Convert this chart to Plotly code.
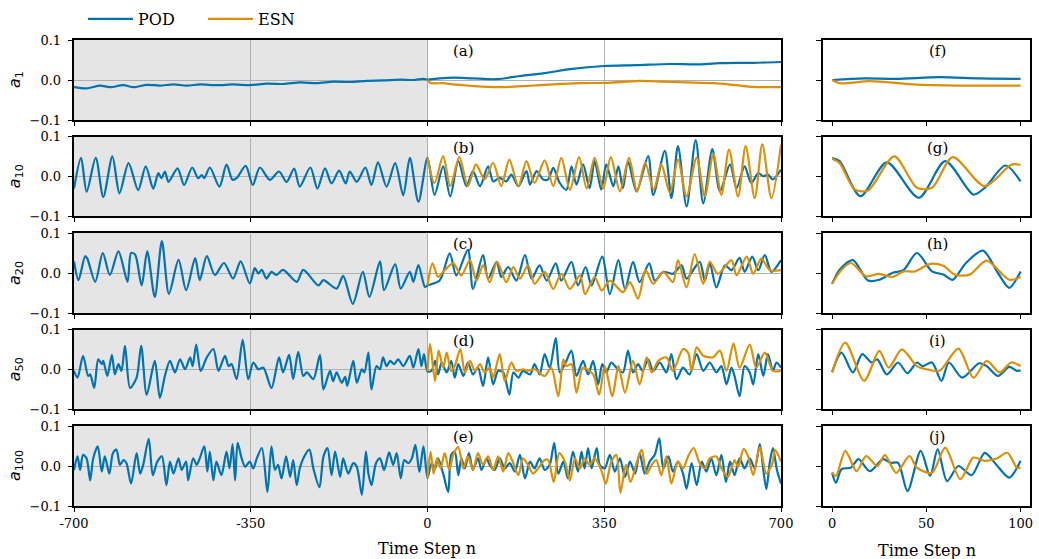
import plotly.graph_objects as go

# ---------------- data (time step, value) ----------------
modes = ["1", "10", "20", "50", "100"]
panel_left = ["(a)", "(b)", "(c)", "(d)", "(e)"]
panel_right = ["(f)", "(g)", "(h)", "(i)", "(j)"]
train_start, train_end = -700, 0
left_ticks = [-700, -350, 0, 350, 700]
left_ticktext = ["-700", "-350", "0", "350", "700"]
right_ticks = [0, 50, 100]
y_ticks = [-0.1, 0.0, 0.1]
y_ticktext = ["\u22120.1", "0.0", "0.1"]

# ---- a_1 ----
a1_pod_train = [(-700,-0.018),(-675,-0.021),(-648,-0.014),(-629,-0.018),(-602,-0.013),(-582,-0.018),(-556,-0.012),
    (-530,-0.014),(-503,-0.011),(-477,-0.014),(-450,-0.011),(-417,-0.013),(-384,-0.011),(-351,-0.013),(-318,-0.009),
    (-285,-0.010),(-252,-0.006),(-219,-0.008),(-186,-0.004),(-153,-0.005),(-120,-0.002),(-87,-0.001),(-54,0.001),
    (-28,0.0),(-8,0.003),(0,0.001)]
a1_pod_test = [(0,0.001),(24,0.004),(51,0.006),(90,0.004),(137,0.002),(183,0.010),(236,0.018),(282,0.027),(350,0.035),
    (414,0.037),(480,0.040),(533,0.039),(579,0.042),(645,0.043),(700,0.045)]
a1_esn = [(0,0.001),(5,-0.007),(31,-0.008),(51,-0.011),(90,-0.015),(137,-0.018),(196,-0.015),(249,-0.011),(302,-0.008),
    (350,-0.007),(394,-0.004),(420,-0.002),(460,-0.004),(513,-0.006),(566,-0.008),(612,-0.013),(645,-0.017),(700,-0.018)]
a1_pod_zoom = [(0,0.0),(17,0.004),(34,0.003),(57,0.007),(78,0.004),(100,0.003)]
a1_esn_zoom = [(0,0.0),(4,-0.008),(20,-0.003),(43,-0.011),(67,-0.014),(87,-0.014),(100,-0.014)]

# ---- a_10 ----
a10_pod_train = [(-700,-0.031),(-686,0.046),(-675,-0.039),(-657,0.046),(-642,-0.052),(-624,0.050),(-610,-0.043),
    (-592,0.033),(-573,-0.035),(-558,0.025),(-543,-0.031),(-533,0.008),(-527,-0.005),(-520,0.012),(-513,-0.014),
    (-495,0.020),(-482,-0.022),(-466,0.022),(-454,-0.005),(-447,0.003),(-442,-0.005),(-431,0.022),(-412,-0.026),
    (-398,0.029),(-386,-0.009),(-378,-0.005),(-360,0.026),(-346,-0.022),(-332,0.022),(-312,-0.009),(-294,0.012),
    (-279,-0.014),(-264,0.019),(-253,-0.026),(-232,0.022),(-218,-0.031),(-203,0.020),(-190,-0.018),(-175,0.014),
    (-162,-0.018),(-154,0.012),(-140,-0.014),(-123,0.022),(-111,-0.022),(-98,0.035),(-81,-0.026),(-64,0.033),
    (-48,-0.048),(-35,0.046),(-18,-0.064),(0,0.046)]
a10_pod_test = [(0,0.046),(14,-0.047),(31,0.025),(45,-0.051),(61,0.038),(77,-0.025),(90,0.013),(104,-0.025),(120,0.025),
    (130,-0.013),(143,-0.004),(156,-0.013),(166,0.004),(180,-0.025),(196,0.013),(203,-0.021),(216,0.013),(229,-0.008),
    (239,-0.008),(249,0.021),(262,-0.017),(275,-0.034),(285,0.025),(295,-0.021),(308,0.030),(321,-0.030),(331,0.038),
    (344,-0.034),(354,0.030),(368,-0.025),(378,0.025),(387,-0.030),(397,0.038),(414,-0.038),(437,0.051),(447,-0.047),
    (470,0.064),(483,-0.055),(496,0.076),(513,-0.076),(531,0.091),(546,-0.068),(564,0.068),(579,-0.038),(599,0.030),
    (612,-0.030),(628,0.025),(641,-0.017),(655,0.008),(665,0.0),(674,0.004),(684,-0.008),(700,0.017)]
a10_esn = [(0,0.046),(14,-0.017),(31,0.051),(45,-0.025),(63,0.048),(80,-0.025),(96,0.030),(113,-0.008),(130,0.034),
    (146,-0.025),(162,0.042),(180,-0.025),(196,0.038),(212,-0.017),(232,0.040),(249,-0.025),(265,0.046),(282,-0.034),
    (300,0.048),(315,-0.030),(331,0.046),(348,-0.030),(363,0.048),(381,-0.038),(399,0.046),(415,-0.038),(431,0.034),
    (448,-0.034),(463,0.030),(480,-0.042),(496,0.042),(513,-0.051),(533,0.047),(549,-0.051),(566,0.055),(582,-0.047),
    (597,0.067),(615,-0.051),(630,0.076),(648,-0.055),(663,0.080),(681,-0.055),(700,0.079)]
a10_pod_zoom = [(0,0.046),(4,0.038),(15,-0.050),(29,0.035),(46,-0.054),(60,0.038),(75,-0.046),(81,-0.029),(92,0.027),(100,-0.013)]
a10_esn_zoom = [(0,0.044),(4,0.033),(12,-0.033),(19,-0.036),(33,0.050),(45,-0.029),(53,-0.029),(64,0.048),(81,-0.025),
    (95,0.029),(100,0.029)]

# ---- a_20 ----
a20_pod_train = [(-700,0.029),(-691,-0.018),(-678,0.042),(-674,0.037),(-658,-0.022),(-643,0.050),(-629,-0.005),
    (-612,0.054),(-594,-0.022),(-587,0.050),(-579,0.046),(-566,-0.031),(-555,0.054),(-540,-0.060),(-526,0.080),
    (-512,-0.052),(-493,0.033),(-478,-0.043),(-460,0.037),(-451,-0.018),(-437,0.042),(-421,-0.005),(-403,0.025),
    (-385,-0.014),(-370,0.029),(-352,-0.026),(-342,0.012),(-335,-0.001),(-328,0.008),(-319,-0.014),(-309,0.003),
    (-299,-0.005),(-286,0.008),(-259,-0.022),(-246,0.008),(-216,-0.031),(-206,-0.018),(-180,-0.039),(-167,-0.007),
    (-148,-0.077),(-128,0.003),(-115,-0.060),(-94,0.029),(-86,-0.043),(-64,0.022),(-53,-0.039),(-35,0.003),
    (-28,-0.022),(-18,0.020),(-5,-0.035),(0,-0.031)]
a20_pod_test = [(0,-0.031),(24,-0.019),(44,0.049),(57,-0.006),(80,0.058),(90,-0.040),(110,0.045),(120,-0.014),(137,0.028),
    (146,-0.010),(160,0.015),(176,-0.019),(193,0.045),(206,-0.014),(222,0.019),(236,-0.019),(254,0.024),(265,-0.019),
    (285,0.028),(298,-0.031),(313,0.015),(325,-0.031),(346,0.041),(361,-0.053),(378,0.032),(391,-0.040),(407,0.028),
    (420,-0.023),(439,0.024),(450,-0.019),(467,0.003),(486,-0.002),(503,0.019),(513,-0.014),(539,0.028),(549,-0.019),
    (559,0.024),(572,-0.036),(589,0.019),(602,0.007),(618,0.038),(628,0.003),(643,0.041),(655,0.007),(668,0.045),
    (681,0.003),(700,0.032)]
a20_esn = [(0,-0.031),(10,0.024),(21,-0.010),(31,0.003),(51,0.024),(67,-0.006),(84,0.032),(97,-0.019),(110,0.019),
    (123,-0.023),(138,0.028),(156,-0.023),(170,0.015),(183,-0.014),(199,0.019),(212,-0.027),(232,0.003),(249,-0.040),
    (265,-0.002),(282,-0.040),(302,-0.006),(312,-0.053),(331,-0.010),(345,-0.044),(361,-0.019),(387,-0.048),
    (401,-0.023),(417,-0.064),(432,0.007),(447,-0.027),(467,0.003),(486,-0.023),(496,0.032),(513,-0.036),(529,0.047),
    (546,-0.027),(559,0.028),(575,-0.002),(602,0.032),(612,-0.006),(632,0.041),(645,-0.002),(661,0.036),(678,0.007),
    (700,0.007)]
a20_pod_zoom = [(0,-0.027),(4,0.008),(11,0.032),(19,-0.019),(25,-0.017),(32,0.0),(38,0.008),(45,0.050),(53,0.004),
    (59,-0.004),(64,-0.017),(71,0.025),(80,0.056),(88,0.0),(94,-0.037),(100,0.004)]
a20_esn_zoom = [(0,-0.027),(5,0.008),(10,0.025),(18,-0.008),(25,-0.002),(32,-0.010),(38,0.004),(44,0.004),(52,0.023),
    (59,0.018),(65,-0.004),(73,-0.004),(82,0.031),(94,-0.017),(100,-0.010)]

# ---- a_50 ----
a50_pod_train = [(-700,-0.004),(-693,-0.021),(-682,0.034),(-672,-0.017),(-668,-0.013),(-660,-0.047),(-652,0.025),
    (-645,0.013),(-642,0.021),(-634,-0.017),(-625,0.036),(-619,-0.013),(-612,0.013),(-606,-0.004),(-599,0.059),
    (-589,-0.047),(-576,-0.021),(-567,0.059),(-556,-0.064),(-540,0.021),(-530,-0.072),(-520,-0.017),(-510,0.021),
    (-500,-0.008),(-490,0.025),(-480,0.0),(-470,0.030),(-465,0.008),(-458,0.062),(-449,-0.004),(-437,0.030),
    (-424,0.051),(-414,-0.004),(-401,0.034),(-394,0.008),(-388,0.013),(-378,-0.025),(-366,0.074),(-355,-0.025),
    (-345,0.017),(-335,0.0),(-325,0.004),(-309,-0.047),(-294,0.030),(-286,-0.008),(-274,0.036),(-266,-0.025),
    (-256,0.044),(-246,-0.017),(-239,-0.008),(-226,-0.025),(-213,0.036),(-206,-0.051),(-193,-0.004),(-187,-0.030),
    (-180,-0.008),(-170,-0.034),(-163,-0.019),(-159,-0.042),(-147,0.021),(-140,-0.034),(-130,0.0),(-125,-0.008),
    (-117,0.042),(-111,-0.051),(-101,0.008),(-94,0.0),(-88,0.030),(-81,0.008),(-74,0.021),(-66,0.013),(-58,0.025),
    (-48,0.008),(-35,0.034),(-28,0.004),(-18,0.051),(-12,0.008),(-7,0.038),(0,-0.005)]
a50_pod_test = [(0,-0.005),(8,-0.004),(15,0.021),(21,-0.013),(28,0.017),(38,-0.008),(47,0.021),(54,-0.021),(61,0.013),
    (71,-0.017),(80,0.017),(90,-0.013),(100,0.004),(110,-0.042),(120,0.030),(130,-0.038),(140,-0.004),(150,-0.008),
    (162,-0.064),(170,-0.008),(180,-0.021),(189,-0.004),(203,-0.013),(212,0.013),(222,-0.013),(232,0.038),(242,0.004),
    (254,0.079),(262,-0.008),(275,0.021),(285,0.047),(295,-0.017),(308,0.021),(318,-0.013),(328,0.021),(338,-0.038),
    (346,0.013),(354,-0.008),(364,0.017),(374,0.004),(387,-0.008),(397,0.047),(407,-0.008),(417,0.013),(426,-0.004),
    (437,0.025),(447,-0.004),(460,0.017),(473,-0.008),(483,0.038),(493,-0.025),(506,0.004),(519,-0.013),(533,0.038),
    (546,-0.004),(559,0.017),(572,-0.008),(582,0.008),(592,-0.038),(602,0.004),(608,-0.017),(618,-0.068),(628,0.008),
    (638,-0.008),(645,-0.038),(655,0.038),(665,-0.017),(674,0.038),(684,-0.004),(691,0.017),(700,0.004)]
a50_esn = [(0,-0.005),(5,0.064),(15,-0.030),(22,0.047),(31,0.004),(38,0.042),(47,-0.004),(54,0.008),(65,0.051),
    (74,-0.008),(84,0.021),(94,-0.004),(104,0.013),(113,-0.008),(123,0.004),(130,-0.021),(143,0.038),(153,-0.030),
    (166,0.017),(176,-0.004),(189,0.0),(199,-0.004),(212,0.0),(232,-0.017),(245,0.004),(259,-0.068),(269,0.025),
    (275,0.008),(285,0.013),(295,-0.059),(308,0.004),(328,-0.013),(340,-0.064),(351,0.008),(366,-0.068),(378,0.008),
    (391,-0.059),(407,0.021),(420,-0.038),(434,0.030),(444,-0.008),(457,0.021),(473,0.030),(486,-0.004),(506,0.051),
    (516,0.042),(523,-0.004),(533,0.055),(546,0.034),(559,0.030),(566,0.030),(579,0.047),(592,-0.004),(606,0.065),
    (618,0.004),(638,0.062),(651,0.004),(668,0.042),(684,-0.004),(700,-0.004)]
a50_pod_zoom = [(0,-0.007),(5,0.042),(11,-0.008),(16,0.038),(21,0.017),(24,0.025),(29,-0.013),(35,0.017),(40,-0.010),
    (45,0.017),(48,0.008),(53,0.017),(58,-0.029),(62,0.017),(69,-0.021),(78,0.015),(82,0.008),(88,-0.017),(94,0.006),
    (98,-0.004),(100,-0.003)]
a50_esn_zoom = [(0,-0.008),(7,0.067),(17,-0.029),(25,0.046),(30,0.004),(37,0.050),(45,0.008),(50,0.0),(57,-0.004),
    (67,0.052),(75,-0.021),(82,0.021),(89,-0.008),(95,0.017),(100,0.008)]

# ---- a_100 ----
a100_pod_train = [(-700,-0.010),(-693,0.024),(-688,-0.010),(-682,0.028),(-675,0.019),(-668,-0.036),(-662,0.019),
    (-653,0.049),(-645,-0.014),(-639,0.024),(-630,-0.019),(-623,0.032),(-616,0.041),(-609,0.003),(-602,0.015),
    (-596,0.007),(-587,-0.044),(-576,0.032),(-569,-0.019),(-563,0.003),(-552,0.068),(-544,-0.023),(-535,0.011),
    (-526,0.024),(-517,-0.048),(-510,0.011),(-503,-0.019),(-493,0.019),(-487,-0.010),(-478,0.011),(-474,-0.036),
    (-464,0.019),(-457,0.003),(-451,0.019),(-442,0.049),(-436,-0.014),(-431,0.036),(-424,-0.036),(-418,0.011),
    (-408,-0.023),(-398,0.036),(-392,-0.006),(-386,0.055),(-381,-0.036),(-376,0.058),(-368,0.019),(-361,-0.002),
    (-352,0.011),(-345,-0.006),(-338,0.019),(-328,0.045),(-317,-0.065),(-309,0.049),(-302,-0.010),(-296,0.003),
    (-289,-0.031),(-280,0.024),(-272,-0.027),(-266,0.015),(-259,-0.048),(-253,-0.006),(-246,0.019),(-234,0.041),
    (-226,-0.006),(-214,-0.053),(-206,0.024),(-198,0.045),(-190,-0.023),(-183,0.036),(-173,-0.027),(-167,0.019),
    (-157,-0.019),(-147,0.007),(-140,-0.002),(-130,-0.072),(-122,0.036),(-117,-0.019),(-111,-0.048),(-102,0.007),
    (-94,0.019),(-86,-0.010),(-76,0.034),(-68,0.003),(-61,0.032),(-53,-0.031),(-46,0.015),(-38,0.007),(-31,0.019),
    (-24,0.053),(-16,-0.015),(-8,0.049),(0,-0.030)]
a100_pod_test = [(0,-0.030),(8,0.007),(15,-0.006),(21,0.019),(31,-0.019),(41,-0.065),(47,0.028),(54,0.036),(61,-0.023),
    (67,0.019),(74,-0.006),(82,0.032),(90,-0.010),(100,0.019),(107,-0.010),(117,0.019),(123,0.003),(133,-0.010),
    (143,0.019),(153,-0.006),(163,0.007),(173,-0.014),(183,0.028),(193,-0.031),(203,0.011),(212,-0.006),(222,0.019),
    (232,-0.010),(242,0.003),(251,0.058),(259,-0.019),(269,0.011),(278,-0.031),(288,0.036),(298,-0.014),(305,0.036),
    (311,-0.006),(318,0.045),(325,-0.006),(335,0.045),(341,0.003),(351,-0.006),(361,0.028),(371,-0.014),(381,0.019),
    (391,-0.027),(401,0.011),(411,-0.019),(420,0.032),(430,-0.019),(440,0.011),(450,0.028),(459,0.069),(467,-0.006),
    (477,0.024),(486,-0.014),(496,0.011),(506,-0.019),(513,-0.057),(523,0.007),(533,-0.048),(543,0.011),(552,-0.014),
    (562,0.019),(572,-0.023),(582,0.028),(591,-0.040),(599,0.011),(608,-0.023),(618,0.019),(628,-0.006),(638,0.019),
    (648,-0.006),(658,0.055),(665,-0.010),(671,-0.058),(678,0.011),(684,0.045),(692,-0.010),(700,-0.044)]
a100_esn = [(0,-0.030),(6,0.036),(12,-0.019),(19,0.019),(26,-0.006),(34,0.032),(43,-0.010),(51,0.028),(61,0.047),
    (71,-0.006),(80,0.024),(90,-0.010),(100,0.032),(110,0.003),(120,0.024),(130,-0.010),(140,0.024),(150,-0.014),
    (160,0.032),(170,0.007),(180,-0.023),(189,0.019),(199,0.003),(209,-0.019),(219,-0.006),(232,0.015),(239,0.015),
    (250,-0.040),(261,0.032),(272,0.011),(282,-0.036),(292,0.019),(302,-0.006),(311,0.019),(321,0.003),(331,0.019),
    (344,-0.010),(353,-0.044),(364,0.011),(374,0.028),(382,-0.067),(393,0.003),(402,-0.040),(414,0.007),(424,0.041),
    (434,-0.019),(444,0.003),(453,0.015),(463,-0.023),(473,0.024),(483,-0.044),(496,0.011),(506,-0.006),(516,0.024),
    (527,0.045),(539,0.007),(549,-0.006),(559,0.019),(572,0.024),(582,-0.006),(595,-0.027),(608,0.015),(615,-0.002),
    (626,0.043),(635,0.024),(645,-0.023),(658,0.047),(671,-0.019),(683,0.007),(688,0.041),(700,0.011)]
a100_pod_zoom = [(0,-0.017),(2,-0.042),(5,-0.008),(10,-0.004),(14,0.017),(20,-0.013),(27,0.017),(31,0.008),(35,0.008),
    (40,-0.063),(47,0.038),(52,-0.025),(56,0.042),(61,-0.038),(67,0.0),(74,-0.023),(81,0.033),(87,0.004),(94,-0.029),
    (100,0.013)]
a100_esn_zoom = [(0,-0.016),(2,-0.025),(7,0.038),(13,-0.013),(18,0.025),(24,0.0),(28,0.027),(34,-0.017),(41,0.025),
    (45,-0.004),(53,-0.017),(60,0.046),(68,-0.033),(75,0.021),(81,0.013),(87,0.018),(93,0.033),(98,-0.004),(100,-0.004)]

rows = [
    (a1_pod_train, a1_pod_test, a1_esn, a1_pod_zoom, a1_esn_zoom),
    (a10_pod_train, a10_pod_test, a10_esn, a10_pod_zoom, a10_esn_zoom),
    (a20_pod_train, a20_pod_test, a20_esn, a20_pod_zoom, a20_esn_zoom),
    (a50_pod_train, a50_pod_test, a50_esn, a50_pod_zoom, a50_esn_zoom),
    (a100_pod_train, a100_pod_test, a100_esn, a100_pod_zoom, a100_esn_zoom),
]

# ---------------- styling / layout ----------------
POD_C = "#0173B2"
ESN_C = "#DE8F05"
W, H = 1039, 559
row_px = [(40, 120), (136.5, 216), (233, 313), (329.5, 409), (426, 506)]
left_dom = [74 / W, 781 / W]
right_dom = [822.7 / W, 1030 / W]
SERIF = "DejaVu Serif"


def split(pairs):
    return [p[0] for p in pairs], [p[1] for p in pairs]


def sfx(k):
    return "" if k == 1 else str(k)


fig = go.Figure()
annotations = []
shapes = []
layout = {}

for i, (pod_tr, pod_te, esn, pod_z, esn_z) in enumerate(rows):
    kl, kr = sfx(2 * i + 1), sfx(2 * i + 2)
    top, bot = row_px[i]
    ydom = [1 - bot / H, 1 - top / H]
    bottom = i == len(rows) - 1

    tx, vy = split(pod_tr + pod_te[1:])
    ex, ey = split(esn)
    lw = 2.2
    fig.add_trace(go.Scatter(x=tx, y=vy, mode="lines", name="POD", legendgroup="POD", showlegend=(i == 0),
                             line=dict(color=POD_C, width=lw, shape="spline", smoothing=0.8),
                             xaxis=f"x{kl}", yaxis=f"y{kl}"))
    fig.add_trace(go.Scatter(x=ex, y=ey, mode="lines", name="ESN", legendgroup="ESN", showlegend=(i == 0),
                             line=dict(color=ESN_C, width=lw, shape="spline", smoothing=0.8),
                             xaxis=f"x{kl}", yaxis=f"y{kl}"))
    zx, zy = split(pod_z)
    fig.add_trace(go.Scatter(x=zx, y=zy, mode="lines", name="POD", legendgroup="POD", showlegend=False,
                             line=dict(color=POD_C, width=lw, shape="spline", smoothing=0.8),
                             xaxis=f"x{kr}", yaxis=f"y{kr}"))
    zx, zy = split(esn_z)
    fig.add_trace(go.Scatter(x=zx, y=zy, mode="lines", name="ESN", legendgroup="ESN", showlegend=False,
                             line=dict(color=ESN_C, width=lw, shape="spline", smoothing=0.8),
                             xaxis=f"x{kr}", yaxis=f"y{kr}"))

    common = dict(showline=True, mirror=True, linecolor="black", linewidth=1.5, ticks="outside", ticklen=4.5,
                  tickwidth=1.2, tickcolor="black", zeroline=False, automargin=False,
                  tickfont=dict(family=SERIF, size=13, color="black"))
    layout[f"xaxis{kl}"] = dict(domain=left_dom, anchor=f"y{kl}", range=[-700, 700], tickmode="array",
                                tickvals=left_ticks, ticktext=left_ticktext, showticklabels=bottom,
                                showgrid=True, gridcolor="#b0b0b0", gridwidth=1, **common)
    layout[f"yaxis{kl}"] = dict(domain=ydom, anchor=f"x{kl}", range=[-0.1, 0.1], tickmode="array",
                                tickvals=y_ticks, ticktext=y_ticktext, showgrid=True, gridcolor="#b0b0b0",
                                gridwidth=1, ticklabelstandoff=4, **common)
    layout[f"xaxis{kr}"] = dict(domain=right_dom, anchor=f"y{kr}", range=[-5, 105], tickmode="array",
                                tickvals=right_ticks, showticklabels=bottom, showgrid=False, **common)
    layout[f"yaxis{kr}"] = dict(domain=ydom, anchor=f"x{kr}", range=[-0.1, 0.1], tickmode="array",
                                tickvals=y_ticks, showticklabels=False, showgrid=False, **common)

    shapes.append(dict(type="rect", xref=f"x{kl}", yref=f"y{kl} domain", x0=train_start, x1=train_end, y0=0, y1=1,
                       fillcolor="#e5e5e5", line=dict(width=0), layer="below"))

    annotations.append(dict(text=f"<i>a</i><sub>{modes[i]}</sub>", xref="paper", yref="paper", x=15 / W,
                            y=1 - (top + bot) / 2 / H, textangle=-90, showarrow=False, xanchor="center",
                            yanchor="middle", font=dict(family="DejaVu Sans", size=16, color="black")))
    annotations.append(dict(text=panel_left[i], xref="paper", yref="paper", x=463 / W, y=ydom[1], yshift=0,
                            xanchor="center", yanchor="top", showarrow=False,
                            font=dict(family=SERIF, size=15, color="black")))
    annotations.append(dict(text=panel_right[i], xref="paper", yref="paper", x=937 / W, y=ydom[1], yshift=0,
                            xanchor="center", yanchor="top", showarrow=False,
                            font=dict(family=SERIF, size=15, color="black")))

annotations.append(dict(text="Time Step n", xref="paper", yref="paper", x=427 / W, y=1 - 548 / H, xanchor="center",
                        yanchor="middle", showarrow=False, font=dict(family=SERIF, size=16, color="black")))
annotations.append(dict(text="Time Step n", xref="paper", yref="paper", x=927 / W, y=1 - 550 / H, xanchor="center",
                        yanchor="middle", showarrow=False, font=dict(family=SERIF, size=16, color="black")))

fig.update_layout(
    width=W, height=H, margin=dict(l=0, r=0, t=0, b=0, autoexpand=False),
    paper_bgcolor="white", plot_bgcolor="white",
    font=dict(family=SERIF, size=13, color="black"),
    showlegend=True,
    legend=dict(orientation="h", x=83 / W, y=1 - 2 / H, xanchor="left", yanchor="top", itemwidth=45,
                entrywidth=60, entrywidthmode="pixels", font=dict(family=SERIF, size=16, color="black"),
                bgcolor="rgba(0,0,0,0)"),
    shapes=shapes, annotations=annotations, **layout,
)

fig.write_html("out.html", config={"displayModeBar": False},
               post_script="document.body.style.margin='0';document.body.style.overflow='hidden';")
